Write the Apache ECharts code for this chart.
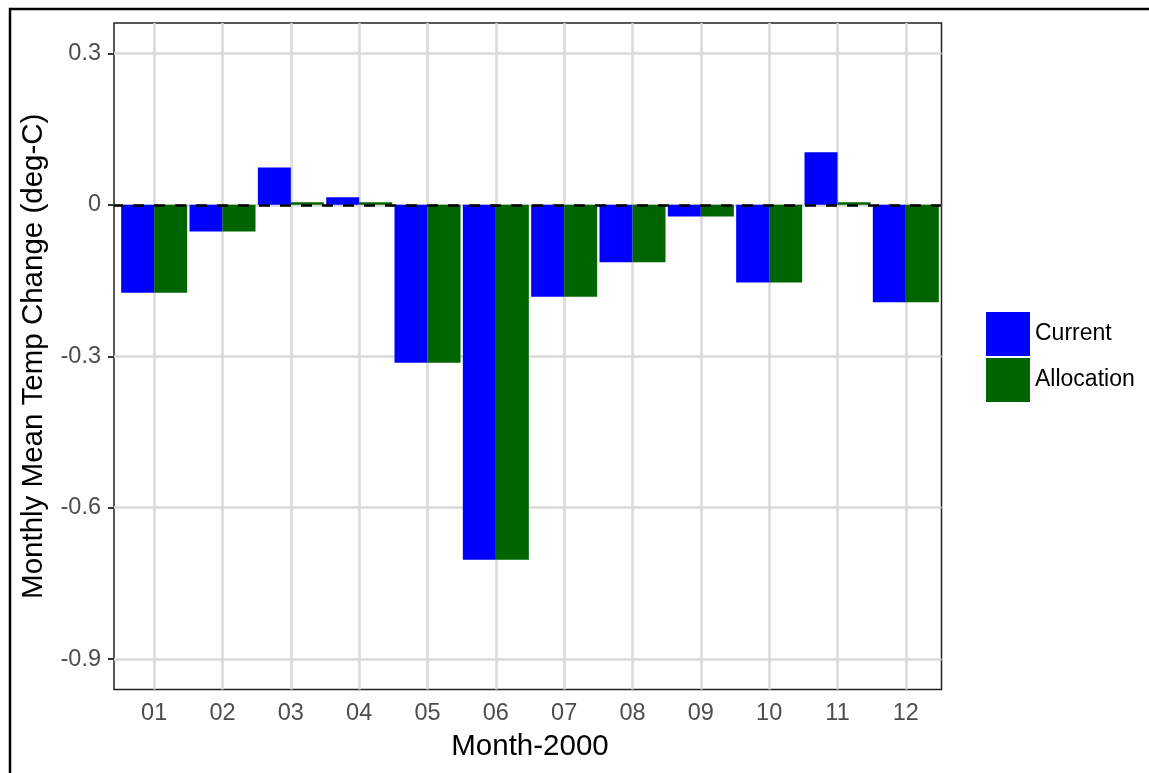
<!DOCTYPE html>
<html>
<head>
<meta charset="utf-8">
<script src="https://cdn.jsdelivr.net/npm/echarts@6/dist/echarts.min.js"></script>
<style>
  html, body { margin: 0; padding: 0; background: #fff; }
  #chart { width: 1149px; height: 773px; }
</style>
</head>
<body>
<div id="chart"></div>
<script>
var months = ['01', '02', '03', '04', '05', '06', '07', '08', '09', '10', '11', '12'];
var currentVals = [-0.174, -0.053, 0.074, 0.015, -0.313, -0.703, -0.182, -0.114, -0.023, -0.154, 0.104, -0.193];
var allocationVals = [-0.174, -0.053, 0.005, 0.005, -0.313, -0.703, -0.182, -0.114, -0.023, -0.154, 0.005, -0.193];
var yTicks = [0.3, 0, -0.3, -0.6, -0.9];

var chartDom = document.getElementById('chart');
var myChart = echarts.init(chartDom);
var option;

var font = 'Liberation Sans, Arial, sans-serif';
var yMin = -0.96, yMax = 0.36;

option = {
    animation: false,
    textStyle: { fontFamily: font },
    graphic: [{
        type: 'rect',
        shape: { x: 10, y: 9, width: 1400, height: 1000 },
        style: { fill: 'none', stroke: '#000', lineWidth: 2.5 },
        z: 100
    }],
    legend: {
        orient: 'vertical',
        left: 986,
        top: 312,
        padding: 0,
        itemWidth: 44,
        itemHeight: 44,
        itemGap: 2,
        icon: 'rect',
        data: ['Current', 'Allocation'],
        textStyle: { fontSize: 23, color: '#000', fontFamily: font, padding: [5, 0, 0, 0] }
    },
    grid: [
        // panel (border, y labels, horizontal grid)
        { left: 114, top: 23, right: 207.5, bottom: 83.5, show: true, borderColor: '#222', borderWidth: 1.5, backgroundColor: 'transparent' },
        // bars
        { left: 120, top: 23, right: 209, bottom: 83.5 }
    ],
    xAxis: [
        { gridIndex: 0, type: 'value', min: 0, max: 1, show: false },
        {
            gridIndex: 1,
            type: 'category',
            data: months,
            axisLine: { show: false },
            axisTick: { alignWithLabel: true, length: 6, lineStyle: { color: '#333', width: 2 } },
            axisLabel: { fontSize: 23.5, color: '#4d4d4d', margin: 12, fontFamily: font },
            splitLine: { show: false },
            name: 'Month-2000',
            nameLocation: 'middle',
            nameGap: 42,
            nameTextStyle: { fontSize: 29.5, color: '#000', fontFamily: font }
        }
    ],
    yAxis: [
        {
            gridIndex: 0,
            type: 'value',
            min: yMin,
            max: yMax,
            axisLine: { show: false },
            axisTick: { show: true, customValues: yTicks, length: 6, lineStyle: { color: '#333', width: 2 } },
            axisLabel: { customValues: yTicks, fontSize: 23.5, color: '#4d4d4d', margin: 13, fontFamily: font },
            splitLine: { show: false },
            name: 'Monthly Mean Temp Change (deg-C)',
            nameLocation: 'middle',
            nameGap: 65,
            nameTextStyle: { fontSize: 29.5, color: '#000', fontFamily: font }
        },
        { gridIndex: 1, type: 'value', min: yMin, max: yMax, show: false }
    ],
    series: [
        {
            name: 'grid-h',
            type: 'line',
            xAxisIndex: 0,
            yAxisIndex: 0,
            data: [],
            silent: true,
            markLine: {
                silent: true,
                symbol: 'none',
                z: 1,
                label: { show: false },
                lineStyle: { color: '#d9d9d9', width: 2.5, type: 'solid' },
                data: yTicks.map(function (v) { return { yAxis: v }; })
            }
        },
        {
            name: 'grid-v',
            type: 'line',
            xAxisIndex: 1,
            yAxisIndex: 1,
            data: [],
            silent: true,
            markLine: {
                silent: true,
                symbol: 'none',
                z: 1,
                label: { show: false },
                lineStyle: { color: '#d9d9d9', width: 2.5, type: 'solid' },
                data: months.map(function (m) { return { xAxis: m }; })
            }
        },
        {
            name: 'Current',
            type: 'bar',
            xAxisIndex: 1,
            yAxisIndex: 1,
            barWidth: 33,
            barGap: '0%',
            z: 2,
            itemStyle: { color: '#0000ff' },
            data: currentVals
        },
        {
            name: 'Allocation',
            type: 'bar',
            xAxisIndex: 1,
            yAxisIndex: 1,
            barWidth: 33,
            barGap: '0%',
            z: 2,
            itemStyle: { color: '#006400' },
            data: allocationVals
        },
        {
            name: 'zero',
            type: 'line',
            xAxisIndex: 0,
            yAxisIndex: 0,
            data: [],
            silent: true,
            markLine: {
                silent: true,
                symbol: 'none',
                z: 10,
                label: { show: false },
                lineStyle: { color: '#000', width: 2.5, type: [11, 10], dashOffset: 2 },
                data: [{ yAxis: 0 }]
            }
        }
    ]
};

option && myChart.setOption(option);
</script>
</body>
</html>
